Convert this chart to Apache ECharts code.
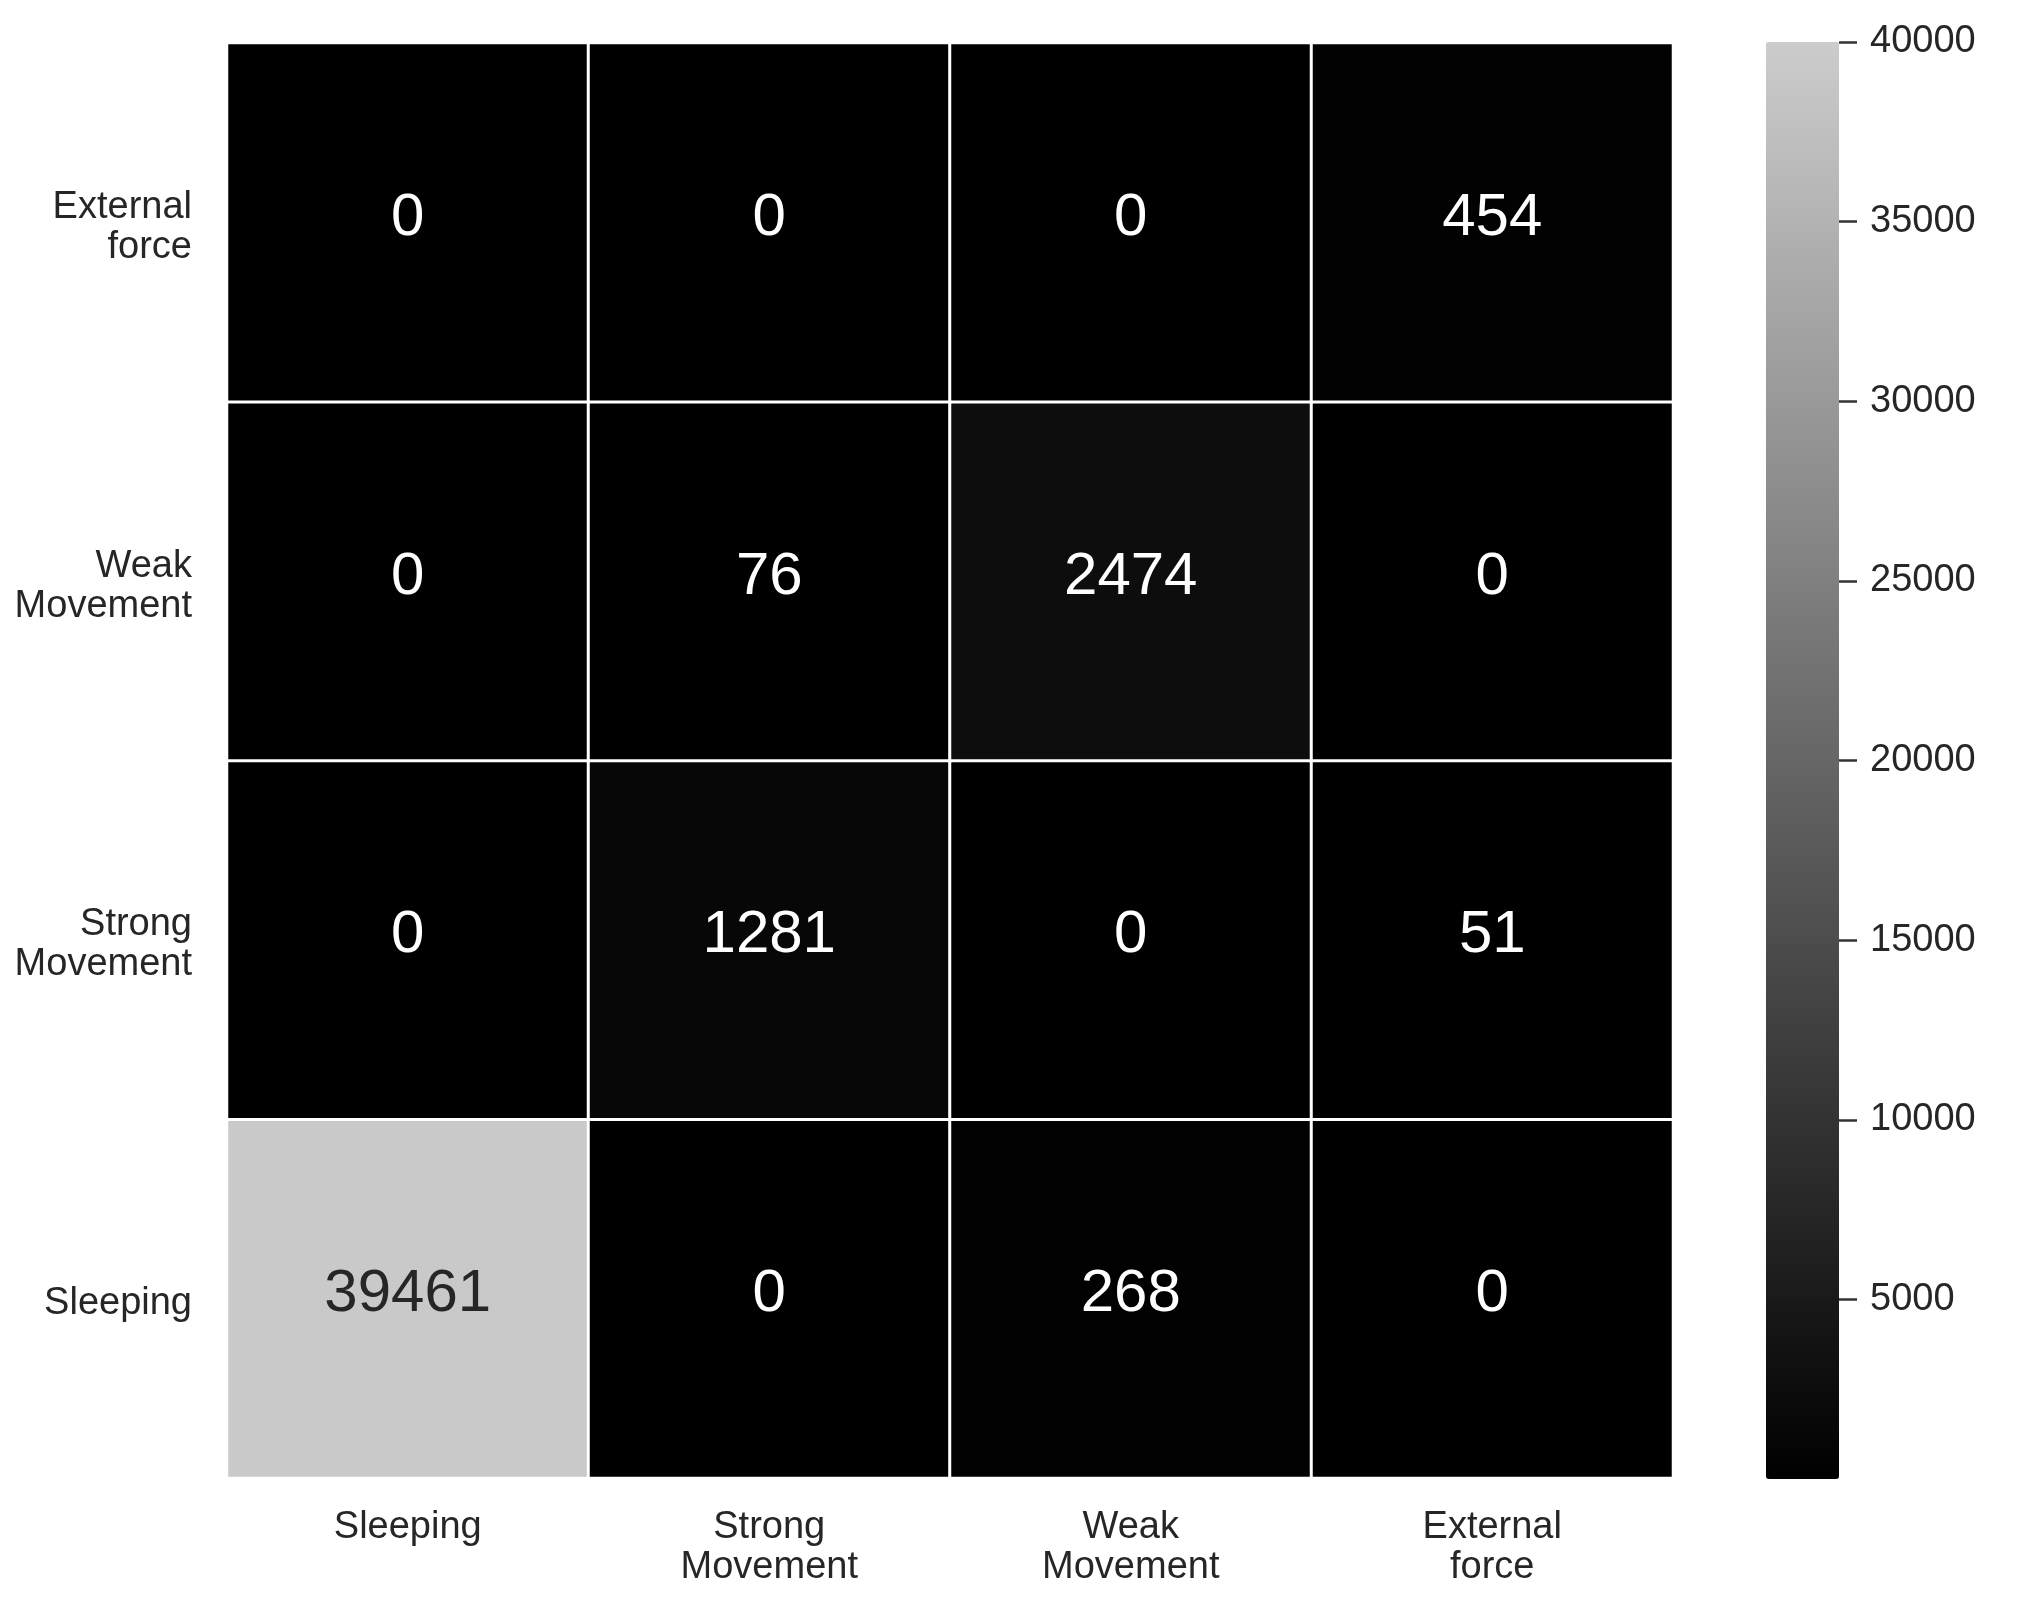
<!DOCTYPE html>
<html lang="en">
<head>
	<meta charset="UTF-8">
	<title>Confusion matrix</title>
	<script src="https://cdn.jsdelivr.net/npm/echarts@6/dist/echarts.min.js"></script>
	<style>
		html, body { margin: 0; padding: 0; background: #fff; }
	</style>
</head>
<body>
	<div id="main" style="width: 2019px;height: 1597px;"></div>
	<script>
		// x: predicted, y: true (bottom to top)
		var xLabels = ['Sleeping', 'Strong\nMovement', 'Weak\nMovement', 'External\nforce'];
		var yLabels = ['Sleeping', 'Strong\nMovement', 'Weak\nMovement', 'External\nforce'];

		// one row per y label, bottom row first
		var rowSleeping = [39461, 0, 268, 0];
		var rowStrong   = [0, 1281, 0, 51];
		var rowWeak     = [0, 76, 2474, 0];
		var rowExternal = [0, 0, 0, 454];
		var rows = [rowSleeping, rowStrong, rowWeak, rowExternal];

		var barTicks = [5000, 10000, 15000, 20000, 25000, 30000, 35000, 40000];
		var barMin = 0;

		var cells = [];
		rows.forEach(function (row, y) {
			row.forEach(function (v, x) {
				cells.push({
					value: [x, y, v],
					label: { color: v > 20000 ? '#262626' : '#ffffff' }
				});
			});
		});

		var myChart = echarts.init(document.getElementById('main'));
		var labelFont = 'Liberation Sans, Arial, sans-serif';

		myChart.setOption({
			animation: false,
			backgroundColor: '#ffffff',
			grid: [
				{ left: 227, right: 346, top: 43, bottom: 119 },
				{ left: 1766, top: 42, width: 73, height: 1437 }
			],
			xAxis: [
				{
					type: 'category',
					data: xLabels,
					axisLine: { show: false },
					axisTick: { show: false },
					splitLine: { show: false },
					axisLabel: {
						color: '#262626',
						fontFamily: labelFont,
						fontSize: 38,
						lineHeight: 40,
						margin: 30
					}
				},
				{ gridIndex: 1, type: 'category', data: [''], show: false }
			],
			yAxis: [
				{
					type: 'category',
					data: yLabels,
					axisLine: { show: false },
					axisTick: { show: false },
					splitLine: { show: false },
					axisLabel: {
						color: '#262626',
						fontFamily: labelFont,
						fontSize: 38,
						lineHeight: 40,
						margin: 35,
						align: 'right',
						// a thin spacer line on top nudges the centred block down a bit
						formatter: function (v) {
							return '{gap| }\n' + v.split('\n').map(function (s) {
								return '{txt|' + s + '}';
							}).join('\n');
						},
						rich: {
							gap: { fontSize: 1, lineHeight: 10 },
							txt: { fontFamily: labelFont, fontSize: 38, color: '#262626', lineHeight: 40 }
						}
					}
				},
				{
					gridIndex: 1,
					type: 'value',
					position: 'right',
					min: barMin,
					max: barTicks[barTicks.length - 1],
					interval: barTicks[1] - barTicks[0],
					axisLine: { show: false },
					splitLine: { show: false },
					axisTick: {
						show: true,
						length: 18,
						customValues: barTicks,
						lineStyle: { color: '#333333', width: 2.5 }
					},
					axisLabel: {
						color: '#262626',
						fontFamily: labelFont,
						fontSize: 38,
						margin: 31,
						customValues: barTicks,
						formatter: function (v) { return String(v); }
					}
				}
			],
			visualMap: {
				type: 'continuous',
				seriesIndex: 0,
				min: barMin,
				max: barTicks[barTicks.length - 1],
				orient: 'vertical',
				left: 1766,
				top: 42,
				itemWidth: 73,
				itemHeight: 1437,
				padding: 0,
				calculable: false,
				hoverLink: false,
				text: null,
				showLabel: false,
				inRange: { color: ['#000000', '#cccccc'] }
			},
			series: [
				{
					type: 'heatmap',
					data: cells,
					itemStyle: { borderColor: '#ffffff', borderWidth: 3 },
					label: {
						show: true,
						fontFamily: labelFont,
						fontSize: 60,
						offset: [0, -4],
						formatter: function (p) { return p.value[2]; }
					},
					emphasis: { disabled: true }
				}
			]
		});
	</script>
</body>
</html>
